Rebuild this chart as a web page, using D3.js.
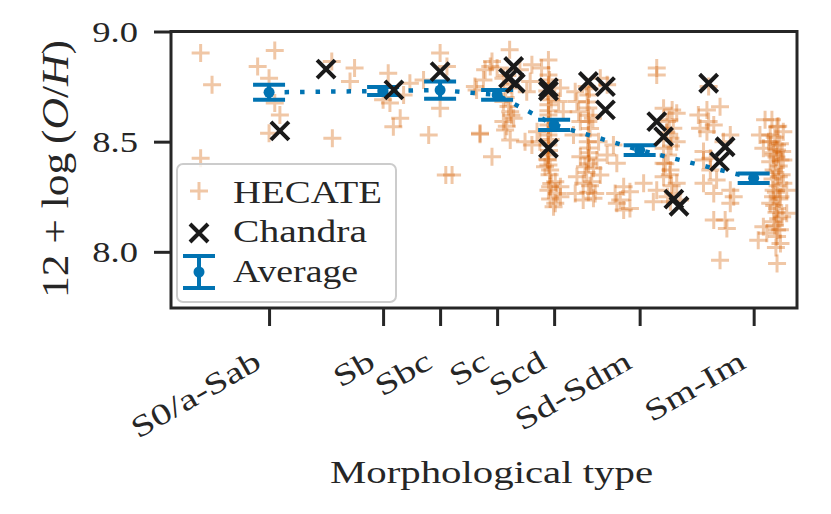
<!DOCTYPE html>
<html>
<head>
<meta charset="utf-8">
<script src="https://cdn.jsdelivr.net/npm/d3@7"></script>
<style>
  body { margin: 0; background: #fff; }
  text { font-family: "Liberation Serif", "Times New Roman", serif; fill: #262626; }
</style>
</head>
<body>
<svg id="chart"></svg>
<script>
// morphological T-type positions and their labels
var tickVals = [1, 3, 4, 5, 6, 7.5, 9.5];
var tickLabels = ["S0/a-Sab", "Sb", "Sbc", "Sc", "Scd", "Sd-Sdm", "Sm-Im"];
var yTicks = [8.0, 8.5, 9.0];

// HECATE galaxies (T-type, 12+log(O/H))
var hecateT = [-0.20, 1.10, 0.80, 0.00, 1.00, 1.10, 1.19, 1.00, 2.10, 2.50, 2.42, 2.11, -0.20,
  3.09, 3.00, 3.12, 3.30, 3.18, 3.36, 3.47, 3.71, 3.80, 4.00, 4.00, 4.12, 4.70, 4.91, 4.88,
  4.64, 4.76, 4.10, 4.21, 5.22, 4.91, 4.79, 5.00, 5.40, 5.61, 5.90, 5.78, 5.58, 5.52, 5.11,
  5.26, 4.61, 5.11, 5.23, 5.11, 5.29, 5.14, 4.70, 5.23, 5.49, 5.61,
  5.90, 5.90, 5.90, 5.90, 5.90, 5.90, 5.90, 5.90, 5.90, 5.90,
  6.11, 6.08, 6.16, 6.37, 6.40, 6.43, 6.46, 6.34, 6.57,
  6.60, 6.60, 6.60, 6.60, 6.60, 6.60,
  6.81, 6.93, 6.68, 6.78, 6.93, 7.04, 5.70, 5.75, 5.89, 5.93, 6.02, 6.11, 6.05, 6.02, 6.11,
  5.93, 5.99, 5.84, 6.46, 6.75, 6.54, 6.69, 6.40, 6.51, 6.81, 6.66, 6.51, 6.69, 6.72, 6.37,
  7.10, 7.22, 7.16, 7.10, 7.22, 7.07, 7.80, 7.80, 8.71, 7.92, 8.07, 8.15, 7.98, 8.09, 8.04,
  8.15, 7.92, 8.53, 8.68, 8.91, 8.71, 8.80, 8.68, 8.56, 9.09, 8.97, 8.62, 8.74, 9.70, 9.61,
  9.91, 10.02, 9.79, 9.76, 9.91, 9.67, 9.85, 10.00, 9.79, 10.02, 7.57, 7.33, 7.33, 8.04,
  7.92, 7.80, 8.15, 7.74, 8.04, 8.21, 7.92, 8.09, 8.62, 8.74, 8.62, 8.85, 8.80, 9.09, 9.15,
  9.09, 8.80, 9.00, 9.03, 8.91,
  9.91, 9.97, 9.85, 9.94, 10.02, 9.85, 9.97, 9.79, 9.91, 10.00, 9.85, 9.91, 9.97, 9.91,
  9.67, 9.58, 9.73, 10.08, 10.08,
  9.82, 9.93, 9.87, 9.96, 9.85, 9.90, 9.94, 9.88, 9.83, 9.92, 9.89, 9.95, 9.86, 9.90, 9.93,
  9.87, 9.91, 9.89, 9.80, 9.99, 9.84, 9.96,
  5.92, 5.88, 5.95, 5.90, 5.93, 5.89, 5.94, 5.91, 5.88, 5.92, 5.95, 5.90, 5.93,
  6.62, 6.58, 6.61, 6.63, 6.59, 6.62, 6.60, 6.57, 6.63, 6.60,
  8.02, 7.97, 8.05, 8.00, 7.95, 8.03, 8.06, 7.99,
  5.18, 5.24, 5.15, 5.20, 5.25, 5.17];
var hecateOH = [8.902, 8.914, 8.841, 8.758, 8.788, 8.675, 8.621, 8.538, 8.864, 8.834, 8.773, 8.515, 8.425,
  8.811, 8.690, 8.675, 8.606, 8.568, 8.712, 8.765, 8.780, 8.530, 8.902, 8.652, 8.841, 8.538, 8.432, 8.841,
  8.735, 8.780, 8.349, 8.349, 8.917, 8.864, 8.826, 8.834, 8.826, 8.849, 8.871, 8.834, 8.773, 8.727, 8.788,
  8.743, 8.750, 8.682, 8.636, 8.591, 8.606, 8.553, 8.534, 8.508, 8.500, 8.485,
  8.803, 8.758, 8.712, 8.667, 8.621, 8.576, 8.530, 8.485, 8.440, 8.394,
  8.743, 8.682, 8.636, 8.727, 8.682, 8.636, 8.591, 8.530, 8.750,
  8.712, 8.653, 8.591, 8.530, 8.471, 8.426,
  8.788, 8.758, 8.606, 8.500, 8.440, 8.485, 8.545, 8.500, 8.417, 8.371, 8.318, 8.295, 8.265, 8.220, 8.250,
  8.295, 8.205, 8.386, 8.432, 8.417, 8.386, 8.379, 8.341, 8.311, 8.349, 8.318, 8.235, 8.243, 8.265, 8.265,
  8.402, 8.295, 8.235, 8.220, 8.190, 8.265, 8.834, 8.803, 8.750, 8.652, 8.644, 8.629, 8.591, 8.561, 8.515,
  8.500, 8.470, 8.621, 8.644, 8.659, 8.591, 8.576, 8.545, 8.561, 8.530, 8.500, 8.455, 8.425, 8.599, 8.530,
  8.568, 8.545, 8.530, 8.500, 8.485, 8.470, 8.440, 8.455, 8.409, 8.417, 8.311, 8.273, 8.197, 8.371,
  8.341, 8.280, 8.311, 8.227, 8.227, 8.235, 8.402, 8.265, 8.417, 8.371, 8.311, 8.326, 8.265, 8.280, 8.250,
  8.220, 8.144, 8.144, 8.106, 7.962,
  8.462, 8.417, 8.371, 8.341, 8.311, 8.280, 8.250, 8.220, 8.197, 8.159, 8.136, 8.099, 8.038, 7.947,
  8.114, 8.053, 8.084, 8.175, 8.280,
  8.60, 8.57, 8.52, 8.49, 8.45, 8.43, 8.39, 8.36, 8.33, 8.30, 8.27, 8.24, 8.21, 8.18, 8.15,
  8.12, 8.07, 8.02, 8.50, 8.35, 8.25, 8.10,
  8.78, 8.73, 8.69, 8.64, 8.60, 8.55, 8.51, 8.46, 8.42, 8.35, 8.31, 8.28, 8.24,
  8.74, 8.68, 8.62, 8.56, 8.50, 8.45, 8.40, 8.36, 8.30, 8.27,
  8.60, 8.54, 8.48, 8.44, 8.40, 8.35, 8.30, 8.25,
  8.80, 8.76, 8.70, 8.66, 8.62, 8.57];

// Chandra sample
var chandraT = [2.00, 1.19, 3.19, 4.00, 5.29, 5.20, 5.32, 5.90, 5.90, 5.90, 6.60, 6.90, 6.90,
  7.80, 7.92, 8.71, 9.00, 8.90, 8.10, 8.19];
var chandraOH = [8.829, 8.549, 8.735, 8.818, 8.841, 8.788, 8.765, 8.745, 8.730, 8.470, 8.773, 8.750, 8.644,
  8.591, 8.523, 8.765, 8.477, 8.409, 8.239, 8.207];

// averages per type bin
var avgT = [1, 3, 4, 5, 6, 7.5, 9.5];
var avgOH = [8.724, 8.730, 8.734, 8.712, 8.576, 8.462, 8.334];
var avgErr = [0.034, 0.018, 0.039, 0.022, 0.023, 0.022, 0.022];

var orange = "#d55e00", blue = "#0173b2", dark = "#1a1a1a";
var plusPath = "M-9,0H9M0,-9V9";
var crossPath = "M-9,-9L9,9M-9,9L9,-9";

var svg = d3.select("#chart").attr("width", 831).attr("height", 514);

var box = { left: 171, right: 797, top: 31.5, bottom: 308 };

var xScale = d3.scaleLinear().domain([-0.72, 10.26]).range([box.left, box.right]);
var yScale = d3.scaleLinear().domain([7.745, 9.0]).range([box.bottom, box.top]);

svg.append("clipPath").attr("id", "clip")
  .append("rect").attr("x", box.left).attr("y", box.top)
  .attr("width", box.right - box.left).attr("height", box.bottom - box.top);

var plot = svg.append("g").attr("clip-path", "url(#clip)");

// HECATE
plot.append("g").selectAll("path")
  .data(hecateT)
  .enter().append("path")
  .attr("d", plusPath)
  .attr("transform", (d, i) => `translate(${xScale(d)},${yScale(hecateOH[i])})`)
  .attr("fill", "none")
  .attr("stroke", orange)
  .attr("stroke-width", 3)
  .attr("stroke-opacity", 0.35);

// average line + error bars
var line = d3.line().x((d, i) => xScale(d)).y((d, i) => yScale(avgOH[i]));
plot.append("path")
  .attr("d", line(avgT))
  .attr("fill", "none")
  .attr("stroke", blue)
  .attr("stroke-width", 4.5)
  .attr("stroke-dasharray", "4.5,11");

var bars = plot.append("g").selectAll("g")
  .data(avgT)
  .enter().append("g")
  .attr("stroke", blue)
  .attr("stroke-width", 4);

bars.append("line")
  .attr("x1", d => xScale(d)).attr("x2", d => xScale(d))
  .attr("y1", (d, i) => yScale(avgOH[i] - avgErr[i]))
  .attr("y2", (d, i) => yScale(avgOH[i] + avgErr[i]));
bars.append("line")
  .attr("x1", d => xScale(d) - 16).attr("x2", d => xScale(d) + 16)
  .attr("y1", (d, i) => yScale(avgOH[i] - avgErr[i]))
  .attr("y2", (d, i) => yScale(avgOH[i] - avgErr[i]));
bars.append("line")
  .attr("x1", d => xScale(d) - 16).attr("x2", d => xScale(d) + 16)
  .attr("y1", (d, i) => yScale(avgOH[i] + avgErr[i]))
  .attr("y2", (d, i) => yScale(avgOH[i] + avgErr[i]));
bars.append("circle")
  .attr("cx", d => xScale(d))
  .attr("cy", (d, i) => yScale(avgOH[i]))
  .attr("r", 5.5)
  .attr("fill", blue)
  .attr("stroke", "none");

// Chandra
plot.append("g").selectAll("path")
  .data(chandraT)
  .enter().append("path")
  .attr("d", crossPath)
  .attr("transform", (d, i) => `translate(${xScale(d)},${yScale(chandraOH[i])})`)
  .attr("fill", "none")
  .attr("stroke", dark)
  .attr("stroke-width", 4);

// axes
var xAxis = d3.axisBottom(xScale).tickValues(tickVals).tickSize(18).tickSizeOuter(0).tickFormat("");
var yAxis = d3.axisLeft(yScale).tickValues(yTicks).tickSize(17).tickSizeOuter(0).tickFormat("");

var gx = svg.append("g").attr("transform", `translate(0,${box.bottom})`).call(xAxis);
var gy = svg.append("g").attr("transform", `translate(${box.left},0)`).call(yAxis);
gx.select(".domain").remove();
gy.select(".domain").remove();
svg.selectAll(".tick line").attr("stroke", "#262626").attr("stroke-width", 3);

svg.selectAll(".xlab")
  .data(tickVals)
  .enter().append("text")
  .attr("class", "xlab")
  .attr("transform", d => `translate(${xScale(d) - 6},367) rotate(-30) scale(1.33,1)`)
  .attr("text-anchor", "end")
  .style("font-size", "30px")
  .text((d, i) => tickLabels[i]);

svg.selectAll(".ylab")
  .data(yTicks)
  .enter().append("text")
  .attr("class", "ylab")
  .attr("transform", d => `translate(138,${yScale(d) + 10}) scale(1.22,1)`)
  .attr("text-anchor", "end")
  .style("font-size", "30px")
  .text(d => d.toFixed(1));

// frame
svg.append("rect")
  .attr("x", box.left).attr("y", box.top)
  .attr("width", box.right - box.left).attr("height", box.bottom - box.top)
  .attr("fill", "none")
  .attr("stroke", "#262626")
  .attr("stroke-width", 3);

// axis titles
svg.append("text")
  .attr("x", 330).attr("y", 483)
  .attr("textLength", 323).attr("lengthAdjust", "spacingAndGlyphs")
  .style("font-size", "32px")
  .text("Morphological type");

var yt = svg.append("text")
  .attr("transform", "translate(68,169) rotate(-90)")
  .attr("text-anchor", "middle")
  .attr("textLength", 258).attr("lengthAdjust", "spacingAndGlyphs")
  .style("font-size", "37px");
yt.append("tspan").text("12 + log\u2009(");
yt.append("tspan").style("font-style", "italic").text("O");
yt.append("tspan").text("/");
yt.append("tspan").style("font-style", "italic").text("H");
yt.append("tspan").text(")");

// legend
var lg = svg.append("g");
lg.append("rect")
  .attr("x", 177).attr("y", 164).attr("width", 219).attr("height", 138)
  .attr("rx", 6)
  .attr("fill", "#fff").attr("fill-opacity", 0.8)
  .attr("stroke", "#cccccc").attr("stroke-width", 2);

lg.append("path").attr("d", plusPath).attr("transform", "translate(199,191)")
  .attr("fill", "none").attr("stroke", orange).attr("stroke-width", 3).attr("stroke-opacity", 0.35);
lg.append("path").attr("d", crossPath).attr("transform", "translate(199,233)")
  .attr("fill", "none").attr("stroke", dark).attr("stroke-width", 4);
var le = lg.append("g").attr("stroke", blue).attr("stroke-width", 4);
le.append("line").attr("x1", 199).attr("x2", 199).attr("y1", 256).attr("y2", 288);
le.append("line").attr("x1", 183).attr("x2", 215).attr("y1", 256).attr("y2", 256);
le.append("line").attr("x1", 183).attr("x2", 215).attr("y1", 288).attr("y2", 288);
le.append("circle").attr("cx", 199).attr("cy", 272).attr("r", 5.5).attr("fill", blue).attr("stroke", "none");

var legendNames = ["HECATE", "Chandra", "Average"];
var legendLen = [149, 134, 125];
var legendY = [203, 242, 282];
lg.selectAll(".ltext")
  .data(legendNames)
  .enter().append("text")
  .attr("x", 233)
  .attr("y", (d, i) => legendY[i])
  .attr("textLength", (d, i) => legendLen[i])
  .attr("lengthAdjust", "spacingAndGlyphs")
  .style("font-size", "31px")
  .text(d => d);
</script>
</body>
</html>
